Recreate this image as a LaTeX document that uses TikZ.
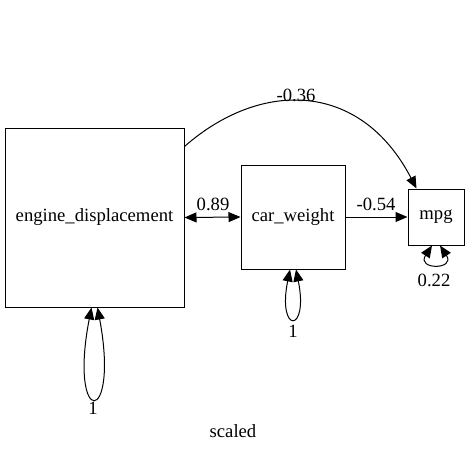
\documentclass[tikz,border=0pt]{standalone}
\usepackage{fontspec}
\setmainfont{Liberation Serif}
\usetikzlibrary{arrows.meta,calc}
\begin{document}
\begin{tikzpicture}[x=0.75pt,y=-0.75pt,
  font=\fontsize{14}{16}\selectfont,
  box/.style={draw,line width=0.75pt,inner sep=0pt},
  edge/.style={line width=0.75pt},
  tip/.style={-{Triangle[length=9pt,width=7.5pt]}},
  dtip/.style={{Triangle[length=9pt,width=7.5pt]}-{Triangle[length=9pt,width=7.5pt]}},
  lbl/.style={inner sep=0pt}]
\useasboundingbox (0,0) rectangle (467,450);
\node[box,minimum size=179*0.75pt] (ed) at (94.5,217.5) {engine\_displacement};
\node[box,minimum size=104*0.75pt] (cw) at (293,217) {car\_weight};
\node[box,minimum size=56*0.75pt] (mpg) at (436,217) {mpg};
% edges
\coordinate (s1) at ($(ed.north east)+(0,19)$);
\coordinate (e1) at ($(mpg.north west)+(9,0)$);
\draw[edge,tip] (s1) .. controls (260,80) and (360,80) .. (e1);
\node[lbl] (l1) at (296,95) {-0.36};
\draw[edge,dtip] (ed.east) -- (cw.west);
\node[lbl] (l2) at (213,204) {0.89};
\draw[edge,tip] (cw.east) -- (mpg.west);
\node[lbl] (l3) at (376,204) {-0.54};
% self loops
\draw[edge,dtip] ($(ed.south)+(-3,0)$) .. controls (68,428) and (120,428) .. ($(ed.south)+(3,0)$);
\node[lbl] (l4) at (93,408) {1};
\draw[edge,dtip] ($(cw.south)+(-3,0)$) .. controls (277,334) and (309,334) .. ($(cw.south)+(3,0)$);
\node[lbl] (l5) at (293,331) {1};
\draw[edge,dtip] ($(mpg.south)+(-4,0)$) .. controls (416,270) and (456,270) .. ($(mpg.south)+(4,0)$);
\node[lbl] (l6) at (434,280) {0.22};
\node[lbl] (title) at (233,431) {scaled};
\end{tikzpicture}
\end{document}
